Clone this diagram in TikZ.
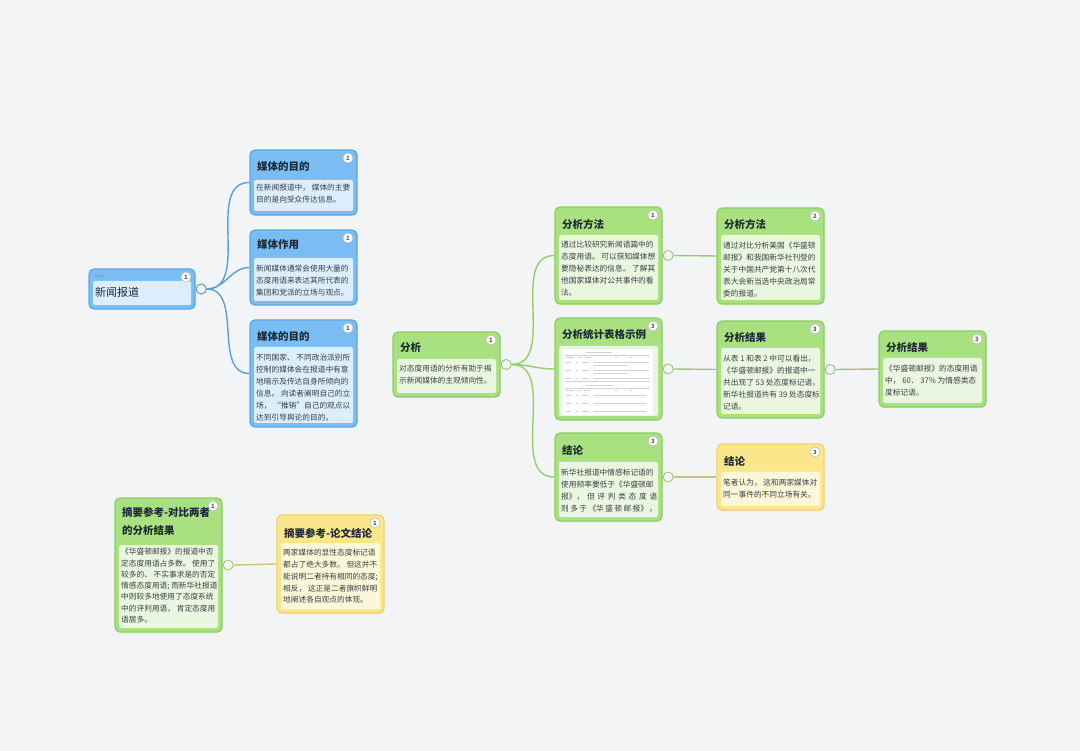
\documentclass[tikz,border=0pt]{standalone}
\usepackage{fontspec}
\setmainfont{Noto Sans CJK SC}
\usetikzlibrary{shadows}
\definecolor{bg}{HTML}{F3F4F6}
\definecolor{bOut}{HTML}{7ABDF4}
\definecolor{bBrd}{HTML}{5EA6E6}
\definecolor{bIn}{HTML}{DCEEFC}
\definecolor{gOut}{HTML}{A9E080}
\definecolor{gBrd}{HTML}{8DD064}
\definecolor{gIn}{HTML}{EAF7E0}
\definecolor{yOut}{HTML}{FBE68C}
\definecolor{yBrd}{HTML}{EFD46A}
\definecolor{yIn}{HTML}{FDF7D9}
\definecolor{bLine}{HTML}{5C9FD6}
\definecolor{gLine}{HTML}{92CF68}
\definecolor{yLine}{HTML}{CFC07A}
\definecolor{ttlc}{HTML}{1E2A36}
\definecolor{txtc}{HTML}{3A3F45}
\tikzset{
  boxbase/.style={rectangle, rounded corners=5pt, line width=1.3pt, inner sep=0pt,
    drop shadow={opacity=0.12, shadow xshift=0.6pt, shadow yshift=-1.2pt}},
  bluebox/.style={boxbase, fill=bOut, draw=bBrd},
  greenbox/.style={boxbase, fill=gOut, draw=gBrd},
  yellowbox/.style={boxbase, fill=yOut, draw=yBrd},
  bluein/.style={fill=bIn},
  greenin/.style={fill=gIn},
  yellowin/.style={fill=yIn},
  badge/.style={circle, draw=black!25, fill=white, inner sep=0pt, minimum size=10pt, line width=0.6pt,
    font=\fontsize{6}{6}\selectfont\bfseries, text=black!65},
  ttl/.style={anchor=west, inner sep=0pt, font=\fontsize{10.5}{12}\selectfont\bfseries, text=ttlc},
  body/.style={anchor=north west, inner sep=0pt, align=left, font=\fontsize{7.7}{12}\selectfont, text=txtc},
  bconn/.style={draw=bLine, line width=1.4pt},
  gconn/.style={draw=gLine, line width=1.4pt},
  yconn/.style={draw=yLine, line width=1.4pt},
  bcirc/.style={circle, draw=bLine, fill=bg, line width=0.9pt, minimum size=10pt, inner sep=0pt},
  gcirc/.style={circle, draw=gLine, fill=bg, line width=0.9pt, minimum size=10pt, inner sep=0pt},
  ycirc/.style={circle, draw=yLine, fill=bg, line width=0.9pt, minimum size=10pt, inner sep=0pt},
  tbl/.style={draw=black!18, line width=0.45pt},
}
\newcommand{\card}[8]{%
  \node[#2box, minimum width={#5-#3}, minimum height={#6-#4}] (#1) at ({(#3+#5)/2},{(#4+#6)/2}) {};
  \fill[#2in, rounded corners=2pt] ({#3+4},{#7}) rectangle ({#5-4},{#6-4});
  \node[badge] (#1badge) at ({#5-9},{#4+8}) {#8};
}
\begin{document}
\begin{tikzpicture}[x=1pt,y=-1pt]
\fill[bg] (0,0) rectangle (1080,751);
\useasboundingbox (0,0) rectangle (1080,751);

% ---------------- Blue cluster ----------------
\card{root}{blue}{89}{269}{195}{309}{281}{1}
\fill[black!45] (96,276) circle (0.8) (99.5,276) circle (0.8) (103,276) circle (0.8);
\node[anchor=west, inner sep=0pt, font=\fontsize{11}{13}\selectfont, text=ttlc] (roott) at (95,292) {新闻报道};

\card{b1}{blue}{250}{150}{357}{215}{180}{1}
\node[ttl] (b1t) at (257,167) {媒体的目的};
\node[body] (b1b) at (256,184) {在新闻报道中， 媒体的主要\\目的是向受众传达信息。};

\card{b2}{blue}{250}{230}{357}{305}{258}{1}
\node[ttl] (b2t) at (257,245) {媒体作用};
\node[body] (b2b) at (256,265) {新闻媒体通常会使用大量的\\态度用语来表达其所代表的\\集团和党派的立场与观点。};

\card{b3}{blue}{250}{320}{357}{427}{347}{1}
\node[ttl] (b3t) at (257,337) {媒体的目的};
\node[body] (b3b) at (256,354) {不同国家、 不同政治派别所\\控制的媒体会在报道中有意\\地暗示及传达自身所倾向的\\信息。 向读者阐明自己的立\\场， “推销”自己的观点以\\达到引导舆论的目的。};

\node[bcirc] (c0) at ([xshift=5.5pt]root.east) {};
\draw[bconn] (root.east) -- (c0.west);
\draw[bconn] (c0.east) to[out=0,in=180] (b1.west);
\draw[bconn] (c0.east) to[out=0,in=180] (b2.west);
\draw[bconn] (c0.east) to[out=0,in=180] (b3.west);
\node[bcirc] (c0b) at ([xshift=5.5pt]root.east) {};

% ---------------- Green cluster ----------------
\card{fx}{green}{393}{332}{500}{397}{359}{1}
\node[ttl] (fxt) at (400,348) {分析};
\node[body] (fxb) at (399,365) {对态度用语的分析有助于揭\\示新闻媒体的主观倾向性。};

\card{g1}{green}{555}{207}{662}{304}{235}{1}
\node[ttl] (g1t) at (562,224) {分析方法};
\node[body] (g1b) at (561,241) {通过比较研究新闻语篇中的\\态度用语。 可以获知媒体想\\要隐秘表达的信息。 了解其\\他国家媒体对公共事件的看\\法。};

\card{g2}{green}{555}{318}{662}{420}{346}{3}
\node[ttl] (g2t) at (562,335) {分析统计表格示例};
\fill[white] (562,349) rectangle (653,415);
\draw[tbl] (586,352) -- (612,352);
\draw[tbl] (565,355) -- (650,355);
\draw[draw=yellow!60!orange!60, line width=0.5pt] (585,357.5) -- (592,357.5);
\draw[tbl] (566,357.5) -- (574,357.5) (578,357.5) -- (581,357.5) (615,357.5) -- (617,357.5) (630,357.5) -- (632,357.5);
\foreach \yy in {362,370,378}{
  \draw[tbl] (566,\yy) -- (571,\yy) (576,\yy) -- (578,\yy) (582,\yy) -- (589,\yy) (594,\yy) -- (649,\yy) (594,\yy+3) -- (628,\yy+3);
}
\draw[tbl] (565,381.5) -- (650,381.5);
\draw[tbl] (586,385) -- (613,385);
\draw[tbl] (565,388) -- (650,388);
\draw[tbl] (566,390.5) -- (574,390.5) (578,390.5) -- (581,390.5) (584,390.5) -- (591,390.5) (615,390.5) -- (617,390.5) (630,390.5) -- (632,390.5);
\foreach \yy in {395,403,411}{
  \draw[tbl] (566,\yy) -- (571,\yy) (576,\yy) -- (578,\yy) (582,\yy) -- (589,\yy) (594,\yy) -- (646,\yy);
}

\card{g3}{green}{555}{433}{662}{521}{462}{3}
\node[ttl] (g3t) at (562,450) {结论};
\node[body] (g3b) at (561,469) {新华社报道中情感标记语的\\使用频率要低于《华盛顿邮\\\makebox[96pt][s]{报》，\hfill 但\hfill 评\hfill 判\hfill 类\hfill 态\hfill 度\hfill 语}\\\makebox[96pt][s]{则\hfill 多\hfill 于\hfill 《华\hfill 盛\hfill 顿\hfill 邮\hfill 报》\hfill 。}};

\card{g4}{green}{717}{208}{824}{304}{235}{2}
\node[ttl] (g4t) at (724,224) {分析方法};
\node[body] (g4b) at (723,242) {通过对比分析美国《华盛顿\\邮报》和我国新华社刊登的\\关于中国共产党第十八次代\\表大会新当选中央政治局常\\委的报道。};

\card{g5}{green}{717}{321}{824}{418}{348}{3}
\node[ttl] (g5t) at (724,338) {分析结果};
\node[body] (g5b) at (723,355) {从表 1 和表 2 中可以看出，\\《华盛顿邮报》的报道中一\\共出现了 53 处态度标记语，\\新华社报道共有 39 处态度标\\记语。};

\card{g6}{green}{879}{331}{986}{407}{358}{3}
\node[ttl] (g6t) at (886,348) {分析结果};
\node[body] (g6b) at (885,365) {《华盛顿邮报》的态度用语\\中， 60． 37\% 为情感类态\\度标记语。};

\card{y1}{yellow}{717}{444}{824}{510}{472}{3}
\node[ttl] (y1t) at (724,461) {结论};
\node[body] (y1b) at (723,479) {笔者认为， 这和两家媒体对\\同一事件的不同立场有关。};

\node[gcirc] (c1) at ([xshift=5.5pt]fx.east) {};
\draw[gconn] (fx.east) -- (c1.west);
\draw[gconn] (c1.east) to[out=0,in=180] (g1.west);
\draw[gconn] (c1.east) to[out=0,in=180] (g2.west);
\draw[gconn] (c1.east) to[out=0,in=180] (g3.west);

\node[gcirc] (c2) at ([xshift=5.5pt]g1.east) {};
\draw[gconn] (g1.east) -- (c2.west);
\draw[gconn] (c2.east) -- (g4.west);

\node[gcirc] (c3) at ([xshift=5.5pt]g2.east) {};
\draw[gconn] (g2.east) -- (c3.west);
\draw[gconn] (c3.east) -- (g5.west);

\node[gcirc] (c4) at ([xshift=5.5pt]g5.east) {};
\draw[gconn] (g5.east) -- (c4.west);
\draw[gconn] (c4.east) -- (g6.west);

\node[gcirc] (c5) at ([xshift=5.5pt]g3.east) {};
\draw[gconn] (g3.east) -- (c5.west);
\draw[yconn] (c5.east) -- (y1.west);

% ---------------- Bottom-left cluster ----------------
\card{s1}{green}{115}{498}{222}{632}{545}{1}
\node[ttl, anchor=north west, align=left, font=\fontsize{10.5}{18}\selectfont\bfseries] (s1t) at (122,507) {摘要参考-对比两者\\的分析结果};
\node[body, font=\fontsize{7.7}{11.3}\selectfont] (s1b) at (121,548) {《华盛顿邮报》的报道中否\\定态度用语占多数。 使用了\\较多的、 不实事求是的否定\\情感态度用语; 而新华社报道\\中则较多地使用了态度系统\\中的评判用语， 肯定态度用\\语居多。};

\card{y2}{yellow}{277}{515}{384}{613}{543}{1}
\node[ttl] (y2t) at (284,533) {摘要参考-论文结论};
\node[body, font=\fontsize{7.7}{11.8}\selectfont] (y2b) at (283,549) {两家媒体的显性态度标记语\\都占了绝大多数。 但这并不\\能说明二者持有相同的态度;\\相反， 这正是二者旗帜鲜明\\地阐述各自观点的体现。};

\node[gcirc] (c6) at ([xshift=5.5pt]s1.east) {};
\draw[gconn] (s1.east) -- (c6.west);
\draw[yconn] (c6.east) -- (y2.west);
\end{tikzpicture}
\end{document}
